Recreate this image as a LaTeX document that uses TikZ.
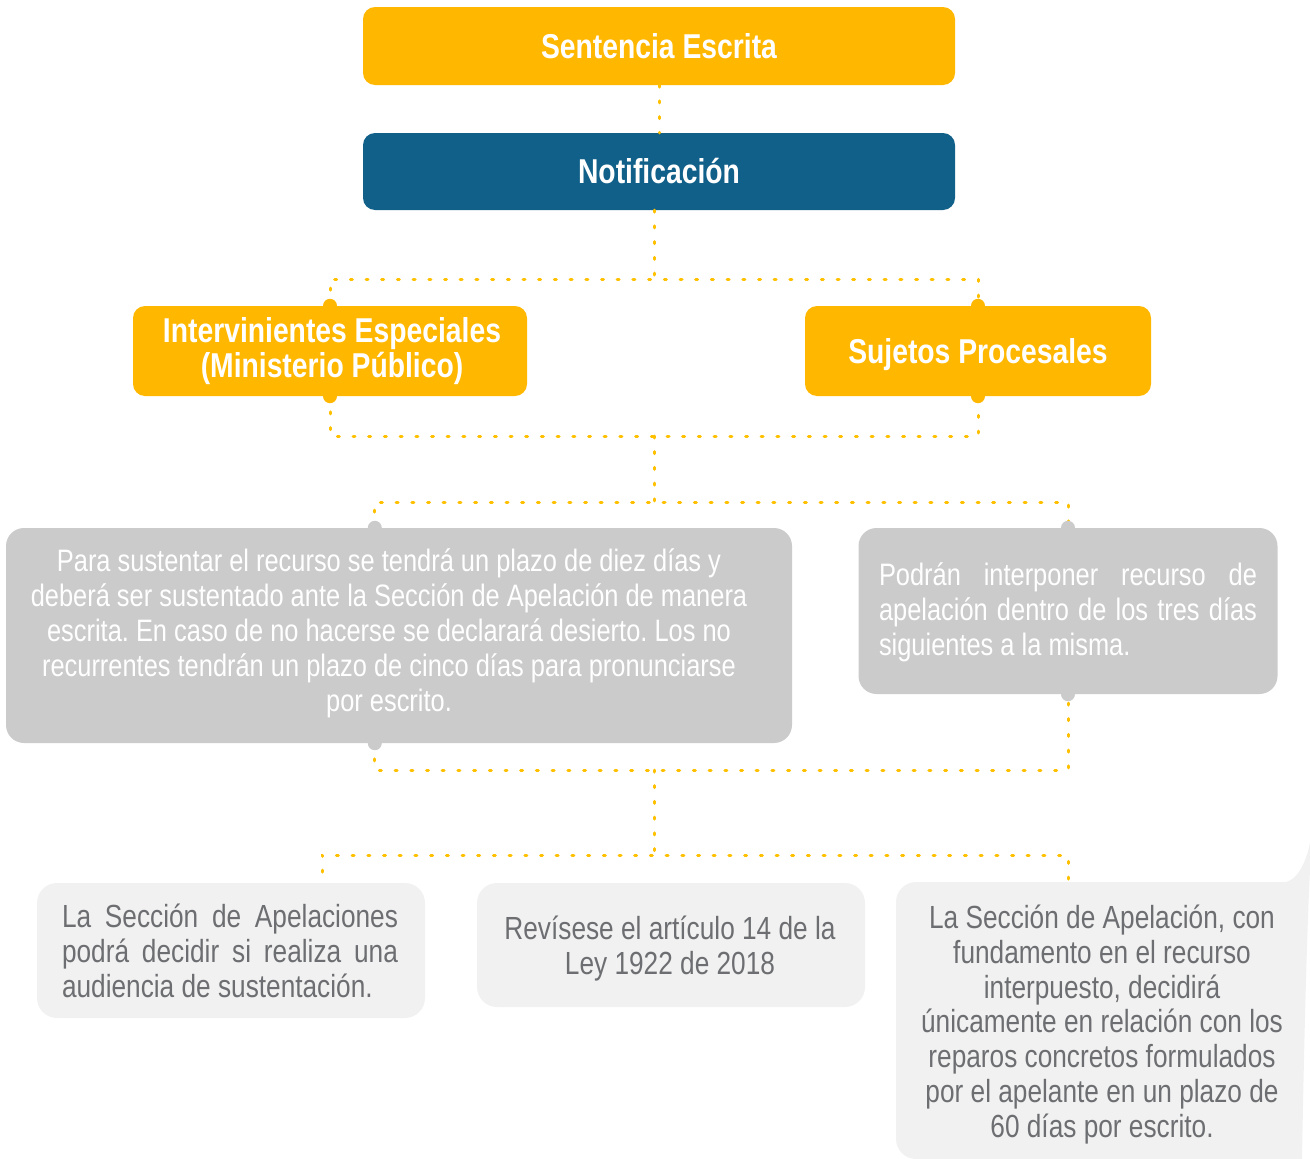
\documentclass[tikz,border=0pt]{standalone}
\usepackage{fontspec}
\setmainfont[FakeStretch=0.82]{Liberation Sans}
\usetikzlibrary{calc}
\definecolor{boxorange}{RGB}{255,183,0}
\definecolor{boxblue}{RGB}{17,96,138}
\definecolor{boxgrey}{RGB}{203,203,203}
\definecolor{boxlight}{RGB}{241,241,241}
\definecolor{txtgrey}{RGB}{109,110,113}
\definecolor{linkcol}{RGB}{255,192,0}
\hbadness=10000
\frenchspacing
\begin{document}
\begin{tikzpicture}[x=1pt,y=-1pt,
  titlebox/.style={rounded corners=12pt, inner sep=0pt, text=white,
    font=\fontsize{34.5}{34.5}\selectfont\bfseries, align=center,
    text height=24.5pt, text depth=0pt},
  obox/.style={titlebox, fill=boxorange},
  bbox/.style={titlebox, fill=boxblue},
  greybox/.style={fill=boxgrey, rounded corners=18pt, inner sep=0pt},
  lightbox/.style={fill=boxlight, rounded corners=20pt, inner sep=0pt},
  wtext/.style={text=white, inner sep=0pt, font=\fontsize{31}{35}\selectfont},
  gtext/.style={text=txtgrey, inner sep=0pt, font=\fontsize{32}{34.8}\selectfont},
  conn/.style={draw=linkcol, line width=3pt, line cap=round,
    dash pattern=on 2pt off 13.7pt},
  knob/.style={radius=7pt}]
\useasboundingbox (0,0) rectangle (1310,1159);

% top boxes
\node[obox, minimum width=592, minimum height=78] (sent) at (659,46) {Sentencia Escrita};
\node[bbox, minimum width=592, minimum height=77] (notif) at (659,171.5) {Notificación};

% second level
\node[obox, minimum width=394, minimum height=90] (int) at (330,351) {};
\node[text=white, inner sep=0pt, font=\fontsize{34.5}{34.5}\selectfont\bfseries,
  align=center] (inttxt) at (332,351) {Intervinientes Especiales\\[0pt](Ministerio Público)};
\node[obox, minimum width=346, minimum height=90] (suj) at (978,351) {Sujetos Procesales};

% third level
\node[greybox, minimum width=786, minimum height=215] (g1) at (399,635.5) {};
\node[wtext, align=center] (g1txt) at (389,633) {Para sustentar el recurso se tendrá un plazo de diez días y\\
deberá ser sustentado ante la Sección de Apelación de manera\\
escrita. En caso de no hacerse se declarará desierto. Los no\\
recurrentes tendrán un plazo de cinco días para pronunciarse\\
por escrito.};
\node[greybox, minimum width=419, minimum height=166] (g2) at (1068,611) {};
\node[wtext, text width=378, align=justify] (g2txt) at (1068,612.5) {Podrán interponer recurso de\linebreak
apelación dentro de los tres días\linebreak siguientes a la misma.};

% bottom level
\node[lightbox, minimum width=388, minimum height=135] (b1) at (231,950.5) {};
\node[gtext, text width=336, align=justify] (b1txt) at (230,951) {La Sección de Apelaciones\linebreak
podrá decidir si realiza una\linebreak audiencia de sustentación.};
\node[lightbox, minimum width=388, minimum height=124] (b2) at (671,945) {};
\node[gtext, align=center] (b2txt) at (670,948.5) {Revísese el artículo 14 de la\\Ley 1922 de 2018};

\fill[boxlight] (916,882) -- (1286,882)
  .. controls (1298,879) and (1306,862) .. (1310,843)
  -- (1310,870) .. controls (1306,950) and (1303,1100) .. (1302,1159)
  -- (916,1159) .. controls (905,1159) and (896,1150) .. (896,1139)
  -- (896,902) .. controls (896,891) and (905,882) .. (916,882) -- cycle;
\coordinate (b3top) at (1068,880);
\node[gtext, align=center] (b3txt) at (1102,1024.5) {La Sección de Apelación, con\\
fundamento en el recurso\\
interpuesto, decidirá\\
únicamente en relación con los\\
reparos concretos formulados\\
por el apelante en un plazo de\\
60 días por escrito.};

% junction points of the connectors
\coordinate (j1) at (654,279);
\coordinate (j2) at (654,436);
\coordinate (j3) at (654,502);
\coordinate (j4) at (654,770);
\coordinate (j5) at (654,855);
\coordinate (g1t) at ([xshift=369pt]g1.north west);
\coordinate (g1b) at ([xshift=369pt]g1.south west);
\coordinate (b1top) at (322,872);

% connectors
\draw[conn] (sent.south) -- (notif.north);
\draw[conn] (notif.south -| j1) -- (j1);
\draw[conn] (int.north) |- (j1) -| (suj.north);
\draw[conn] (int.south) |- (j2) -| (suj.south);
\draw[conn] (j2) -- (j3);
\draw[conn] (g1t) |- (j3) -| (g2.north);
\draw[conn] (g1b) |- (j4) -| (g2.south);
\draw[conn] (j4) -- (j5);
\draw[conn] (b1top) |- (j5) -| (b3top);

% knobs where the connectors meet the boxes
\fill[boxorange] (int.north) circle[knob];
\fill[boxorange] (int.south) circle[knob];
\fill[boxorange] (suj.north) circle[knob];
\fill[boxorange] (suj.south) circle[knob];
\fill[boxgrey] (g1t) circle[knob];
\fill[boxgrey] (g1b) circle[knob];
\fill[boxgrey] (g2.north) circle[knob];
\fill[boxgrey] (g2.south) circle[knob];
\end{tikzpicture}
\end{document}
